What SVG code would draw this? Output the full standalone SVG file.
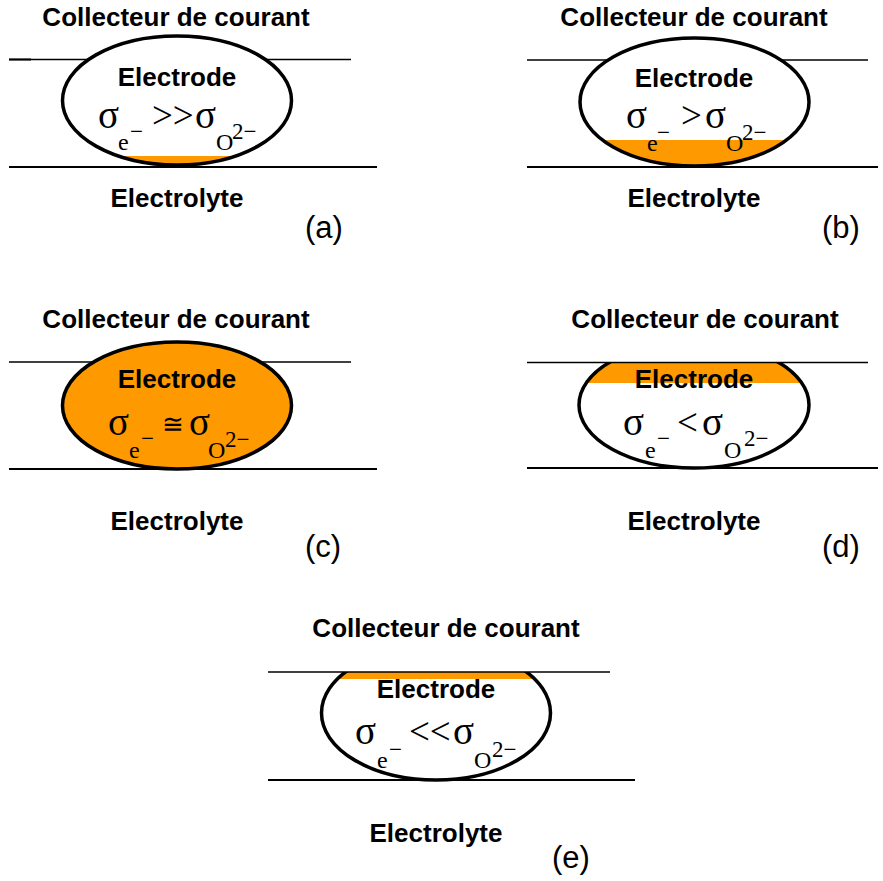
<svg xmlns="http://www.w3.org/2000/svg" width="883" height="881" viewBox="0 0 883 881">
<style>
.lbl{font-family:"Liberation Sans",Arial,sans-serif;font-weight:bold;font-size:26px;fill:#000;text-anchor:middle}
.tag{font-family:"Liberation Sans",Arial,sans-serif;font-size:31px;fill:#000}
.sg{font-family:"Liberation Serif","Times New Roman",serif;font-size:39px;fill:#000}
.op{font-family:"Liberation Serif","Times New Roman",serif;font-size:37px;fill:#000}
.sub{font-family:"Liberation Serif","Times New Roman",serif;font-size:24px;fill:#000}
.sup{font-family:"Liberation Serif","Times New Roman",serif;font-size:23px;fill:#000}
.el{fill:none;stroke:#000;stroke-width:3.5}
.top{stroke:#000;stroke-width:1.4}
.bot{stroke:#000;stroke-width:2.2}
.or{fill:#FF9900}
</style>
<defs>
<clipPath id="clipA"><ellipse cx="177" cy="100.5" rx="114.5" ry="64.5"/></clipPath>
<clipPath id="clipB"><ellipse cx="694.5" cy="102" rx="114.5" ry="64"/></clipPath>
<clipPath id="clipD"><ellipse cx="694" cy="405" rx="115" ry="63"/></clipPath>
<clipPath id="clipE"><ellipse cx="436" cy="713" rx="114.5" ry="67"/></clipPath>
<clipPath id="topD"><rect x="500" y="362" width="383" height="200"/></clipPath>
<clipPath id="topE"><rect x="250" y="672" width="400" height="200"/></clipPath>
</defs>

<g id="panel-a">
<text class="lbl" x="176" y="26">Collecteur de courant</text>
<line class="top" x1="9" y1="59.5" x2="351" y2="59.5"/>
<line x1="9" y1="59.5" x2="31" y2="59.5" stroke="#000" stroke-width="2"/>
<ellipse cx="177" cy="100.5" rx="114.5" ry="64.5" fill="#fff"/>
<rect class="or" x="50" y="156" width="260" height="20" clip-path="url(#clipA)"/>
<ellipse class="el" cx="177" cy="100.5" rx="114.5" ry="64.5"/>
<line class="bot" x1="9" y1="167" x2="377" y2="167"/>
<text class="lbl" x="177" y="86">Electrode</text>
<text class="sg" x="98" y="128">σ</text>
<text class="sub" x="118" y="150">e</text>
<text class="sup" x="130" y="139">−</text>
<text class="op" x="152" y="128">&gt;&gt;</text>
<text class="sg" x="195" y="128">σ</text>
<text class="sub" x="216" y="150">O</text>
<text class="sup" x="232" y="139">2−</text>
<text class="lbl" x="177" y="207">Electrolyte</text>
<text class="tag" x="305" y="238">(a)</text>
</g>

<g id="panel-b">
<text class="lbl" x="694" y="26">Collecteur de courant</text>
<line class="top" x1="527" y1="60" x2="868" y2="60"/>
<ellipse cx="694.5" cy="102" rx="114.5" ry="64" fill="#fff"/>
<rect class="or" x="570" y="140" width="250" height="40" clip-path="url(#clipB)"/>
<ellipse class="el" cx="694.5" cy="102" rx="114.5" ry="64"/>
<line class="bot" x1="527" y1="167" x2="878" y2="167"/>
<text class="lbl" x="694" y="87">Electrode</text>
<text class="sg" x="626" y="128">σ</text>
<text class="sub" x="647" y="151">e</text>
<text class="sup" x="657" y="140">−</text>
<text class="op" x="681" y="128">&gt;</text>
<text class="sg" x="705" y="128">σ</text>
<text class="sub" x="726" y="151">O</text>
<text class="sup" x="742" y="140">2−</text>
<text class="lbl" x="694" y="207">Electrolyte</text>
<text class="tag" x="822" y="238">(b)</text>
</g>

<g id="panel-c">
<text class="lbl" x="176" y="328">Collecteur de courant</text>
<line class="top" x1="9" y1="362" x2="351" y2="362"/>
<ellipse cx="177" cy="405.5" rx="114.5" ry="63.5" class="or"/>
<ellipse class="el" cx="177" cy="405.5" rx="114.5" ry="63.5"/>
<line class="bot" x1="9" y1="469" x2="377" y2="469"/>
<text class="lbl" x="177" y="388">Electrode</text>
<text class="sg" x="108" y="435">σ</text>
<text class="sub" x="129" y="458">e</text>
<text class="sup" x="141" y="446">−</text>
<text x="162" y="433" font-family="Liberation Serif, Times New Roman, serif" font-size="26">≅</text>
<text class="sg" x="189" y="435">σ</text>
<text class="sub" x="208" y="458">O</text>
<text class="sup" x="225" y="447">2−</text>
<text class="lbl" x="177" y="530">Electrolyte</text>
<text class="tag" x="305" y="557">(c)</text>
</g>

<g id="panel-d">
<text class="lbl" x="705" y="328">Collecteur de courant</text>
<g clip-path="url(#topD)">
<ellipse cx="694" cy="405" rx="115" ry="63" fill="#fff"/>
<rect class="or" x="570" y="340" width="250" height="43" clip-path="url(#clipD)"/>
<ellipse class="el" cx="694" cy="405" rx="115" ry="63"/>
</g>
<line class="top" x1="527" y1="362.5" x2="868" y2="362.5"/>
<line class="bot" x1="527" y1="468" x2="878" y2="468"/>
<text class="lbl" x="694" y="388">Electrode</text>
<text class="sg" x="623" y="435">σ</text>
<text class="sub" x="645" y="458">e</text>
<text class="sup" x="657" y="446">−</text>
<text class="op" x="677" y="435">&lt;</text>
<text class="sg" x="702" y="435">σ</text>
<text class="sub" x="724" y="458">O</text>
<text class="sup" x="744" y="446">2−</text>
<text class="lbl" x="694" y="530">Electrolyte</text>
<text class="tag" x="822" y="557">(d)</text>
</g>

<g id="panel-e">
<text class="lbl" x="446" y="637">Collecteur de courant</text>
<g clip-path="url(#topE)">
<ellipse cx="436" cy="713" rx="114.5" ry="67" fill="#fff"/>
<rect class="or" x="310" y="640" width="250" height="39" clip-path="url(#clipE)"/>
<ellipse class="el" cx="436" cy="713" rx="114.5" ry="67"/>
</g>
<line class="top" x1="268" y1="672" x2="610" y2="672"/>
<line class="bot" x1="268" y1="780" x2="635" y2="780"/>
<text class="lbl" x="436" y="698">Electrode</text>
<text class="sg" x="355" y="744">σ</text>
<text class="sub" x="377" y="768">e</text>
<text class="sup" x="389" y="757">−</text>
<text class="op" x="409" y="744">&lt;&lt;</text>
<text class="sg" x="453" y="744">σ</text>
<text class="sub" x="474" y="768">O</text>
<text class="sup" x="492" y="757">2−</text>
<text class="lbl" x="436" y="842">Electrolyte</text>
<text class="tag" x="552" y="868">(e)</text>
</g>
</svg>
